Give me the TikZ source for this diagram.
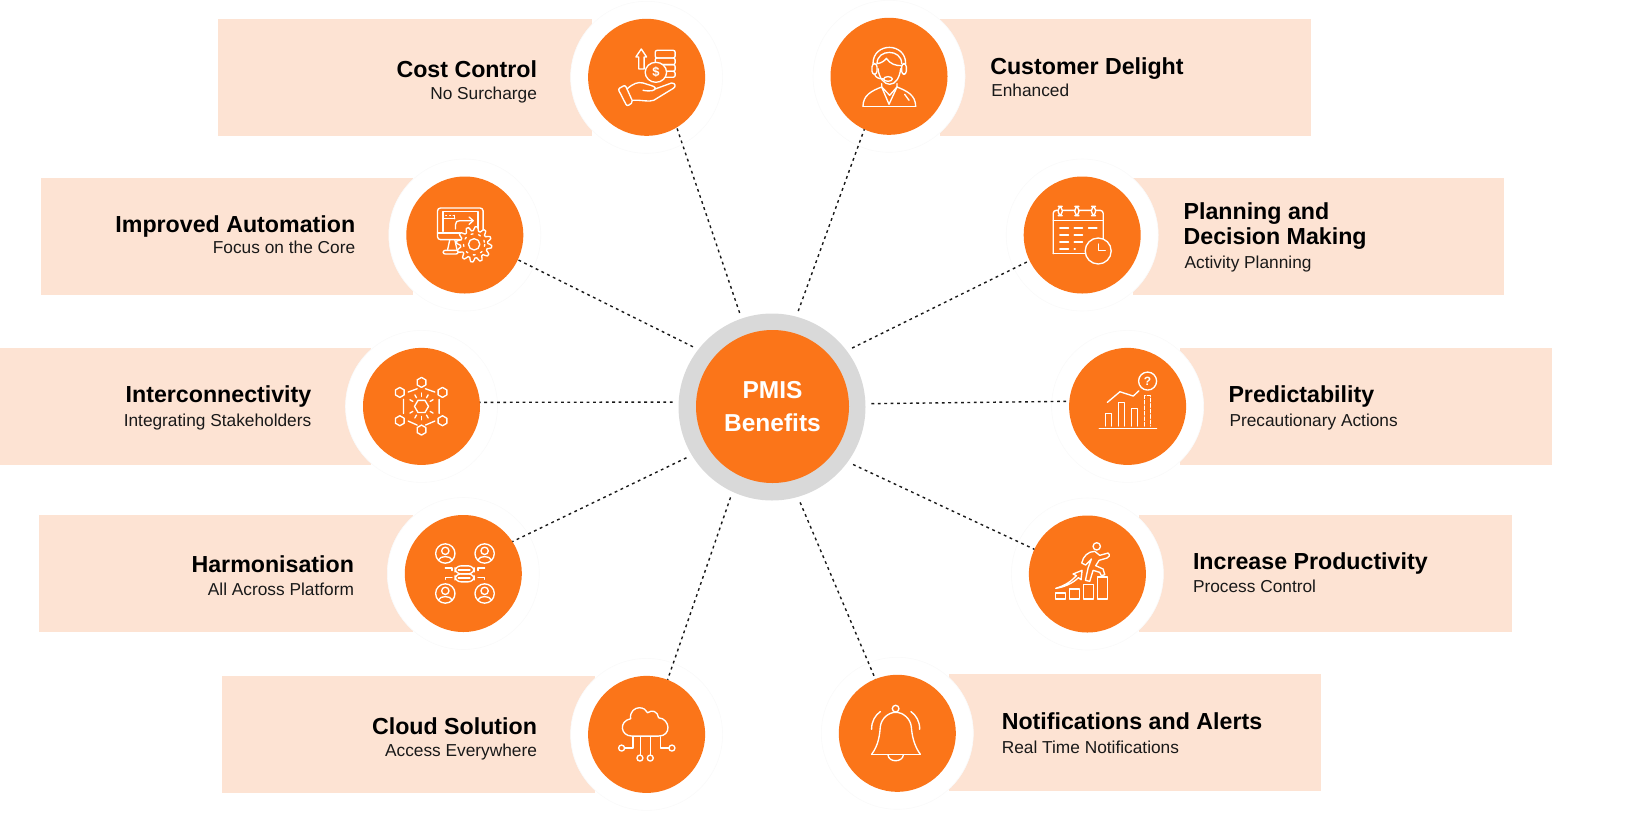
\documentclass[tikz,border=0pt]{standalone}
\usepackage{fontspec}
\setmainfont{Liberation Sans}
\definecolor{org}{HTML}{FB7519}
\definecolor{peach}{HTML}{FDE3D3}
\definecolor{ringg}{HTML}{D9D9D9}
\definecolor{halo}{HTML}{FAFAFA}
\tikzset{
 band/.style={fill=peach,draw=none},
 halonode/.style={circle,fill=white,draw=halo,line width=.6pt,minimum size=152pt,inner sep=0pt,outer sep=0pt},
 satnode/.style={circle,fill=org,draw=none,minimum size=117pt,inner sep=0pt,outer sep=0pt},
 hubring/.style={circle,fill=ringg,draw=none,minimum size=187pt,inner sep=0pt,outer sep=0pt},
 hubcore/.style={circle,fill=org,draw=none,minimum size=153pt,inner sep=0pt,outer sep=0pt,text=white,align=center,font=\fontsize{24.5}{33.5}\selectfont\bfseries},
 link/.style={draw=black!90,line width=1.4pt,dash pattern=on 2.8pt off 3.6pt,shorten <=6pt},
 ttl/.style={inner sep=0pt,outer sep=0pt,yshift=-5pt,text=black,font=\fontsize{23.2}{25.6}\selectfont\bfseries},
 subt/.style={inner sep=0pt,outer sep=0pt,yshift=-3.6pt,text=black!90,font=\fontsize{17.3}{20}\selectfont},
 ic/.style={draw=white,line width=1.35pt,line cap=round,line join=round},
 icf/.style={ic,fill=org},
 zoomed/.style={x=.3333pt,y=-.3333pt}
}
\newcommand{\band}[4]{\fill[band] (#1,#3) rectangle (#2,#4);}
\newcommand{\halonode}[3]{\node[halonode] (h#1) at (#2,#3) {};}
\begin{document}
\begin{tikzpicture}[x=1pt,y=-1pt]
\useasboundingbox (0,0) rectangle (1638,812);
% bands
\band{218.3}{592}{18.8}{135.8}
\band{940}{1311}{18.8}{135.8}
\band{40.7}{412.6}{177.6}{294.6}
\band{1133}{1504}{177.6}{294.6}
\band{0}{371}{347.9}{464.9}
\band{1180}{1552.3}{347.9}{464.9}
\band{38.7}{412.6}{515}{632}
\band{1138.6}{1511.5}{515}{632}
\band{221.5}{595.4}{675.9}{792.9}
\band{948.5}{1321.4}{673.8}{790.8}
% halos
\halonode{a}{646.6}{77.3}
\halonode{b}{889}{76.3}
\halonode{c}{464.8}{235}
\halonode{d}{1082.2}{235}
\halonode{e}{421.5}{406.4}
\halonode{f}{1127.6}{406.4}
\halonode{g}{463.3}{573.5}
\halonode{h}{1087.4}{574}
\halonode{i}{646.6}{734.4}
\halonode{j}{897.3}{733.3}
% circles
\node[satnode] (cost) at (ha) {};
\node[satnode] (cust) at (hb) {};
\node[satnode] (auto) at (hc) {};
\node[satnode] (plan) at (hd) {};
\node[satnode] (inter) at (he) {};
\node[satnode] (pred) at (hf) {};
\node[satnode] (harm) at (hg) {};
\node[satnode] (prod) at (hh) {};
\node[satnode] (cloud) at (hi) {};
\node[satnode] (notif) at (hj) {};
\node[hubring] (hub) at (772,407) {};
\node[hubcore] (core) at (772.5,406.5) {PMIS\\Benefits};
% connectors
\draw[link] (hub.109.7) -- (cost.-59.9);
\draw[link] (hub.75.6) -- (cust.245.7);
\draw[link] (hub.142.3) -- (auto.-25.7);
\draw[link] (hub.37.8) -- (plan.206.6);
\draw[link] (hub.177.1) -- (inter.4);
\draw[link] (hub.2.9) -- (pred.175.9);
\draw[link] (hub.211) -- (harm.33);
\draw[link] (hub.-36.9) -- (prod.155.2);
\draw[link] (hub.245.3) -- (cloud.69.6);
\draw[link] (hub.-74.2) -- (notif.112.9);
% texts
\node[ttl,anchor=mid east] (t1) at (537,70) {Cost Control};
\node[subt,anchor=mid east] (s1) at (537,93) {No Surcharge};
\node[ttl,anchor=mid east] (t2) at (355.2,224.6) {Improved Automation};
\node[subt,anchor=mid east] (s2) at (355.2,247.6) {Focus on the Core};
\node[ttl,anchor=mid east] (t3) at (311.3,394.9) {Interconnectivity};
\node[subt,anchor=mid east] (s3) at (311.3,420) {Integrating Stakeholders};
\node[ttl,anchor=mid east] (t4) at (354,565) {Harmonisation};
\node[subt,anchor=mid east] (s4) at (354,589) {All Across Platform};
\node[ttl,anchor=mid east] (t5) at (537,727) {Cloud Solution};
\node[subt,anchor=mid east] (s5) at (537,750) {Access Everywhere};
\node[ttl,anchor=mid west] (t6) at (990.3,66.9) {Customer Delight};
\node[subt,anchor=mid west] (s6) at (991.3,90) {Enhanced};
\node[ttl,anchor=mid west] (t7a) at (1183.6,212) {Planning and};
\node[ttl,anchor=mid west] (t7b) at (1183.6,237) {Decision Making};
\node[subt,anchor=mid west] (s7) at (1184.6,262.2) {Activity Planning};
\node[ttl,anchor=mid west] (t8) at (1228.5,394.9) {Predictability};
\node[subt,anchor=mid west] (s8) at (1229.5,420) {Precautionary Actions};
\node[ttl,anchor=mid west] (t9) at (1193,562) {Increase Productivity};
\node[subt,anchor=mid west] (s9) at (1193,586) {Process Control};
\node[ttl,anchor=mid west] (t10) at (1001.8,721.8) {Notifications and Alerts};
\node[subt,anchor=mid west] (s10) at (1001.8,747) {Real Time Notifications};
% ICONS
% cost
\begin{scope}[shift={(cost.center)}]\begin{scope}[x=.357pt,y=-.3333pt,shift={(-1250,-233)}]
\draw[ic] (1235,148) -- (1220,172) -- (1228,172) -- (1228,208) -- (1243,208) -- (1243,172) -- (1250,172) -- cycle;
\foreach \a/\b in {152/175,175/195,195/215,215/233}{\draw[ic,rounded corners=2pt] (1274,\a) rectangle (1330,\b);}
\filldraw[icf] (1276,218) circle (30);
\node[text=white,font=\fontsize{13}{13}\selectfont\bfseries,inner sep=0pt] (dol) at (1276,218) {\$};
\draw[icf,rounded corners=2pt] (1170,268) -- (1190,256) -- (1212,308) -- (1195,320) -- cycle;
\draw[ic] (1195,268) .. controls (1212,252) and (1225,246) .. (1240,250) .. controls (1255,256) and (1270,258) .. (1274,264) .. controls (1276,274) and (1260,276) .. (1240,272);
\draw[ic] (1274,268) -- (1320,250) .. controls (1332,250) and (1332,262) .. (1325,266) -- (1270,302) .. controls (1255,308) and (1235,300) .. (1212,302);
\end{scope}\end{scope}
% customer
\begin{scope}[shift={(cust.center)}]\begin{scope}[zoomed,shift={(-208,-228)}]
\draw[ic] (160,190) .. controls (160,125) and (258,125) .. (258,190);
\draw[ic] (172,190) .. controls (172,145) and (246,145) .. (246,190);
\draw[ic] (173,190) .. controls (185,188) and (195,182) .. (200,174) .. controls (212,192) and (228,196) .. (245,196);
\draw[ic] (175,205) .. controls (178,235) and (195,252) .. (210,252) .. controls (228,252) and (240,232) .. (243,205);
\draw[ic,rounded corners=3pt] (157,190) rectangle (172,222);
\draw[ic,rounded corners=3pt] (246,190) rectangle (260,222);
\draw[ic] (165,222) .. controls (168,232) and (178,236) .. (192,236);
\draw[icf] (205,236) ellipse (13 and 7);
\draw[ic] (130,318) .. controls (130,285) and (155,272) .. (186,260) -- (186,250);
\draw[ic] (288,318) .. controls (288,285) and (262,272) .. (232,260) -- (232,250);
\draw[ic] (130,318) -- (288,318);
\draw[ic] (186,260) -- (210,285) -- (232,260);
\draw[ic] (186,260) -- (208,312) -- (232,260);
\draw[ic] (255,282) -- (268,300);
\end{scope}\end{scope}
% automation
\begin{scope}[shift={(auto.center)}]\begin{scope}[zoomed,shift={(-375,-226)}]
\draw[ic,rounded corners=3pt] (293,145) rectangle (430,240);
\draw[ic] (310,215) -- (310,155) -- (415,155) -- (415,210);
\draw[ic] (310,177) -- (345,177) (345,177) -- (345,167);
\draw[ic] (318,167) -- (320,167) (330,167) -- (332,167) (340,167) -- (342,167);
\draw[ic] (347,208) -- (347,195) .. controls (347,186) and (352,183) .. (360,183) -- (400,183);
\draw[ic] (388,172) -- (400,183) -- (388,194);
\draw[ic] (293,220) -- (360,220);
\draw[ic] (330,240) -- (323,272) (345,240) -- (352,272);
\draw[ic,rounded corners=2pt] (310,272) rectangle (355,283);
\begin{scope}[shift={(403,254)}]
\filldraw[icf] plot[domain=0:360,samples=97] (\x:{47+6*sign(sin(12*\x))}) -- cycle;
\draw[ic] (0,0) circle (17);
\draw[ic,dash pattern=on 2pt off 5.8pt] (0,0) circle (32);
\end{scope}
\end{scope}\end{scope}
% planning
\begin{scope}[shift={(plan.center)}]\begin{scope}[zoomed,shift={(-789,-706)}]
\draw[ic,rounded corners=3pt] (702,762) -- (702,632) -- (852,632) -- (852,720);
\draw[ic] (702,762) -- (800,762);
\draw[ic] (702,662) -- (852,662);
\foreach \c in {723,773,823}{\filldraw[icf,rounded corners=4pt] (\c-6,620) rectangle (\c+6,648);}
\foreach \c in {685,706,727,748}{\draw[ic] (722,\c) -- (748,\c);}
\foreach \c in {685,706,727}{\draw[ic] (765,\c) -- (790,\c);}
\draw[ic] (808,685) -- (833,685);
\draw[ic] (765,748) -- (768,748);
\filldraw[icf] (837,754) circle (39);
\draw[ic] (837,733) -- (837,752) -- (858,752);
\end{scope}\end{scope}
% interconnectivity
\begin{scope}[shift={(inter.center)}]\begin{scope}[zoomed,shift={(-245,-229)}]
\foreach \cx/\cy in {245/157,308/187,308/272,245/300,180/272,180/187}{
 \begin{scope}[shift={(\cx,\cy)}]\draw[ic] (90:15) -- (30:15) -- (-30:15) -- (-90:15) -- (-150:15) -- (150:15) -- cycle;\end{scope}}
\begin{scope}[shift={(245,229)}]\draw[ic] (0:21) -- (60:21) -- (120:21) -- (180:21) -- (240:21) -- (300:21) -- cycle;
\foreach \a in {30,90,150,210,270,330,60,120,240,300}{\draw[ic] (\a:30) -- (\a:40);}\end{scope}
\draw[ic] (205,186) -- (232,176) (257,176) -- (285,186) (298,208) -- (298,250) (285,273) -- (257,285) (232,285) -- (205,273) (191,208) -- (191,250);
\end{scope}\end{scope}
% harmonisation
\begin{scope}[shift={(harm.center)}]\begin{scope}[zoomed,shift={(-370,-733)}]
\foreach \cx/\cy in {316/673,434/673,316/793,434/793}{
 \begin{scope}[shift={(\cx,\cy)}]
 \draw[ic] (0,0) circle (29);
 \draw[ic] (0,-8) circle (11);
 \draw[ic] (-20,19) .. controls (-16,6) and (16,6) .. (20,19);
 \end{scope}}
\draw[ic,rounded corners=6pt] (345,710) rectangle (403,734);
\draw[ic,rounded corners=6pt] (345,734) rectangle (403,758);
\draw[ic] (355,722) -- (390,722) (355,746) -- (390,746);
\draw[ic] (316,716) -- (336,716) -- (336,724);
\draw[ic] (316,750) -- (316,745) -- (336,745);
\draw[ic] (434,716) -- (414,716) -- (414,724);
\draw[ic] (434,750) -- (434,745) -- (414,745);
\end{scope}\end{scope}
% predictability
\begin{scope}[shift={(pred.center)}]\begin{scope}[zoomed,shift={(-323,-229)}]
\draw[ic] (238,296) -- (410,296);
\draw[ic] (256,288) -- (256,250) -- (274,250) -- (274,288);
\draw[ic] (295,288) -- (295,218) -- (314,218) -- (314,288);
\draw[ic] (334,288) -- (334,235) -- (353,235) -- (353,288);
\draw[ic,dash pattern=on 3.5pt off 2pt] (374,288) -- (374,197) -- (391,197) -- (391,288);
\draw[ic] (262,217) -- (300,185) -- (340,198) -- (357,182);
\draw[ic] (383,153) circle (27);
\node[text=white,font=\fontsize{12}{12}\selectfont\bfseries,inner sep=0pt] (qm) at (383,153) {?};
\end{scope}\end{scope}
% productivity
\begin{scope}[shift={(prod.center)}]\begin{scope}[zoomed,shift={(-203,-733)}]
\draw[ic] (108,790) rectangle (137,808);
\draw[ic] (150,778) rectangle (180,808);
\draw[ic] (192,765) rectangle (221,808);
\draw[ic] (233,742) rectangle (263,808);
\draw[ic] (108,776) .. controls (135,768) and (155,755) .. (170,738) -- (160,733) -- (187,722) -- (184,750) -- (176,744) .. controls (160,760) and (135,772) .. (108,776);
\draw[ic] (231,650) circle (11);
\draw[ic] (186,700) .. controls (190,680) and (205,665) .. (225,665) -- (240,677) -- (265,670) .. controls (272,675) and (268,685) .. (262,685) -- (238,692) -- (228,708) -- (250,718) -- (255,735) -- (245,738) -- (240,728) -- (220,722) -- (210,755) -- (197,752) -- (205,715) -- (215,688) -- (198,706) -- cycle;
\end{scope}\end{scope}
% cloud
\begin{scope}[shift={(cloud.center)}]\begin{scope}[zoomed,shift={(-229,-225)}]
\draw[ic] (185,230) .. controls (150,230) and (145,185) .. (181,178) .. controls (178,155) and (195,145) .. (207,145) .. controls (220,145) and (228,152) .. (232,160) .. controls (245,150) and (262,155) .. (265,175) .. controls (300,178) and (305,230) .. (265,230) -- cycle;
\draw[ic] (188,232) -- (188,266) -- (163,266);
\draw[ic] (210,232) -- (210,286);
\draw[ic] (240,232) -- (240,286);
\draw[ic] (270,232) -- (270,266) -- (296,266);
\foreach \cx/\cy in {154/266,209/296,240/296,305/266}{\draw[ic] (\cx,\cy) circle (9);}
\end{scope}\end{scope}
% notifications
\begin{scope}[shift={(notif.center)}]\begin{scope}[zoomed,shift={(-981,-220)}]
\draw[ic] (904,283) -- (1050,283);
\draw[ic] (904,283) .. controls (925,255) and (928,225) .. (930,200) .. controls (933,175) and (955,157) .. (976,157) .. controls (998,157) and (1020,175) .. (1023,200) .. controls (1025,225) and (1030,255) .. (1050,283);
\draw[ic] (976,146) circle (10);
\draw[ic] (953,285) .. controls (955,308) and (997,308) .. (999,285);
\draw[ic] (904,208) .. controls (903,185) and (915,165) .. (930,155);
\draw[ic] (1048,208) .. controls (1049,185) and (1037,165) .. (1022,155);
\end{scope}\end{scope}
\end{tikzpicture}
\end{document}
